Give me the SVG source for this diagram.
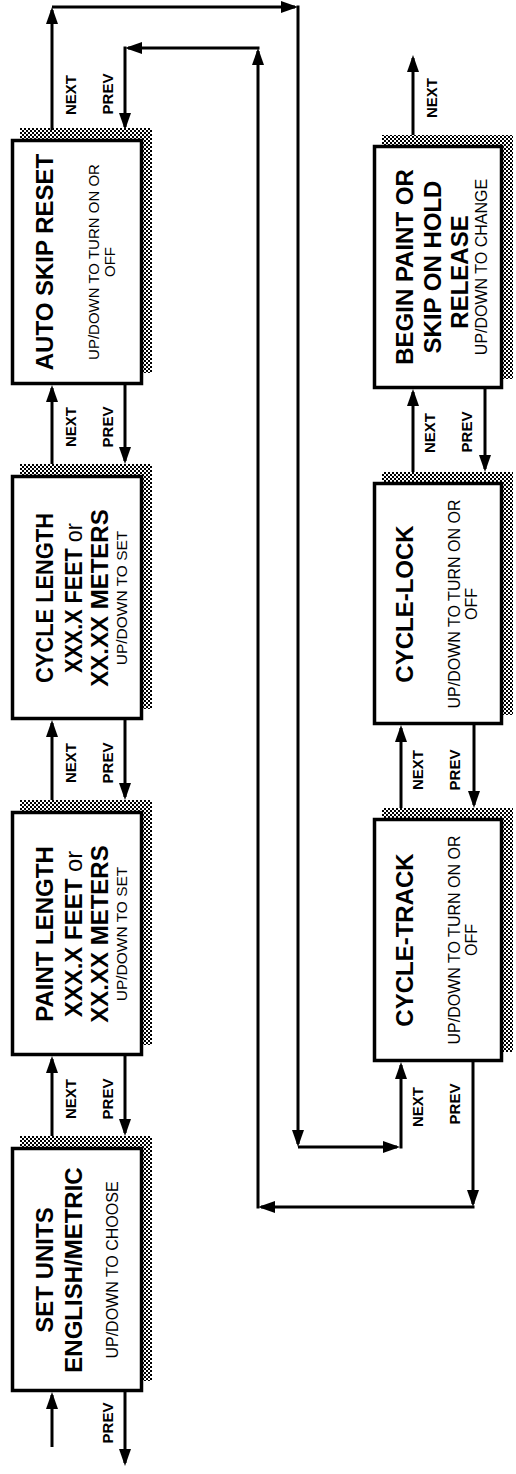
<svg xmlns="http://www.w3.org/2000/svg" width="516" height="1474" viewBox="0 0 516 1474">
<style>
.box{fill:#fff;stroke:#000;stroke-width:3.5}
.shadow{fill:url(#dots)}
.ln{fill:none;stroke:#000;stroke-width:3;marker-end:url(#ah)}
text{font-family:"Liberation Sans",Arial,sans-serif;fill:#000}
.t{font-size:24px;font-weight:bold}
.s{font-size:16px}
.s15{font-size:15px}
.s155{font-size:15.5px}
.lbl{font-size:15px;font-weight:bold}
</style>
<defs>
<pattern id="dots" width="4" height="4" patternUnits="userSpaceOnUse"><rect width="2" height="2" fill="#000"/><rect x="2" y="2" width="2" height="2" fill="#000"/></pattern>
<marker id="ah" markerUnits="userSpaceOnUse" markerWidth="17" markerHeight="12" refX="14" refY="6" orient="auto"><path d="M0,0 L17,6 L0,12 Z" fill="#000"/></marker>
</defs>
<g id="connectors">
<path class="ln" d="M52,1447 V1395"/>
<path class="ln" d="M125,1392 V1463"/>
<path class="ln" d="M52,1136 V1059"/>
<path class="ln" d="M125,1056 V1133"/>
<path class="ln" d="M52,800 V723"/>
<path class="ln" d="M125,720 V797"/>
<path class="ln" d="M52,464 V388"/>
<path class="ln" d="M125,385 V461"/>
<path class="ln" d="M52,130 V10"/>
<path class="ln" d="M52,7 H295"/>
<path class="ln" d="M298,5.5 V1144"/>
<path class="ln" d="M298,1147 H397"/>
<path class="ln" d="M401,1148.5 V1065"/>
<path class="ln" d="M473,1062 V1204"/>
<path class="ln" d="M474.5,1207 H261"/>
<path class="ln" d="M258,1208.5 V51"/>
<path class="ln" d="M259.5,48 H128"/>
<path class="ln" d="M125,46.5 V127"/>
<path class="ln" d="M401,808 V728"/>
<path class="ln" d="M474,725 V805"/>
<path class="ln" d="M413,472 V392"/>
<path class="ln" d="M485,389 V469"/>
<path class="ln" d="M413,135 V58"/>
<g class="lbl" text-anchor="middle">
<text class="lbl" transform="translate(76,95) rotate(-90)">NEXT</text>
<text class="lbl" transform="translate(113,94) rotate(-90)">PREV</text>
<text class="lbl" transform="translate(76,427) rotate(-90)">NEXT</text>
<text class="lbl" transform="translate(113,427) rotate(-90)">PREV</text>
<text class="lbl" transform="translate(76,763) rotate(-90)">NEXT</text>
<text class="lbl" transform="translate(113,763) rotate(-90)">PREV</text>
<text class="lbl" transform="translate(76,1099) rotate(-90)">NEXT</text>
<text class="lbl" transform="translate(113,1099) rotate(-90)">PREV</text>
<text class="lbl" transform="translate(113,1423) rotate(-90)">PREV</text>
<text class="lbl" transform="translate(437,98) rotate(-90)">NEXT</text>
<text class="lbl" transform="translate(435,433) rotate(-90)">NEXT</text>
<text class="lbl" transform="translate(472,432) rotate(-90)">PREV</text>
<text class="lbl" transform="translate(423,770) rotate(-90)">NEXT</text>
<text class="lbl" transform="translate(460,770) rotate(-90)">PREV</text>
<text class="lbl" transform="translate(423,1107) rotate(-90)">NEXT</text>
<text class="lbl" transform="translate(460,1104) rotate(-90)">PREV</text>
</g>
</g>
<g id="set-units">
<rect class="shadow" x="20" y="1136" width="132" height="245"/>
<rect class="box" x="12.5" y="1148.5" width="129" height="242"/>
<g transform="translate(77,1270) rotate(-90)" text-anchor="middle">
<text class="t" y="-24">SET UNITS</text>
<text class="t" y="5">ENGLISH/METRIC</text>
<text class="s" y="41">UP/DOWN TO CHOOSE</text>
</g>
</g>
<g id="paint-length">
<rect class="shadow" x="20" y="800" width="132" height="245"/>
<rect class="box" x="12.5" y="812.5" width="129" height="242"/>
<g transform="translate(77,934) rotate(-90)" text-anchor="middle">
<text class="t" y="-24">PAINT LENGTH</text>
<text class="t" y="5">XXX.X FEET<tspan font-weight="normal"> or</tspan></text>
<text class="t" y="31">XX.XX METERS</text>
<text class="s155" y="50">UP/DOWN TO SET</text>
</g>
</g>
<g id="cycle-length">
<rect class="shadow" x="20" y="464" width="132" height="245"/>
<rect class="box" x="12.5" y="476.5" width="129" height="242"/>
<g transform="translate(77,598) rotate(-90)" text-anchor="middle">
<text class="t" y="-24" textLength="170" lengthAdjust="spacingAndGlyphs">CYCLE LENGTH</text>
<text class="t" y="5" textLength="150" lengthAdjust="spacingAndGlyphs">XXX.X FEET<tspan font-weight="normal"> or</tspan></text>
<text class="t" y="31">XX.XX METERS</text>
<text class="s155" y="50">UP/DOWN TO SET</text>
</g>
</g>
<g id="auto-skip-reset">
<rect class="shadow" x="20" y="128" width="132" height="245"/>
<rect class="box" x="12.5" y="140.5" width="129" height="243"/>
<g transform="translate(77,262) rotate(-90)" text-anchor="middle">
<text class="t" y="-24">AUTO SKIP RESET</text>
<text class="s15" y="22">UP/DOWN TO TURN ON OR</text>
<text class="s15" y="38">OFF</text>
</g>
</g>
<g id="begin-paint">
<rect class="shadow" x="382" y="135" width="131" height="244"/>
<rect class="box" x="374.5" y="146.5" width="127" height="241"/>
<g transform="translate(438,267) rotate(-90)" text-anchor="middle">
<text class="t" y="-25">BEGIN PAINT OR</text>
<text class="t" y="3">SKIP ON HOLD</text>
<text class="t" y="30" x="-5">RELEASE</text>
<text class="s" y="49">UP/DOWN TO CHANGE</text>
</g>
</g>
<g id="cycle-lock">
<rect class="shadow" x="382" y="472" width="131" height="243"/>
<rect class="box" x="374.5" y="483.5" width="127" height="240"/>
<g transform="translate(438,604) rotate(-90)" text-anchor="middle">
<text class="t" y="-25">CYCLE-LOCK</text>
<text class="s" y="22">UP/DOWN TO TURN ON OR</text>
<text class="s" y="39">OFF</text>
</g>
</g>
<g id="cycle-track">
<rect class="shadow" x="382" y="808" width="131" height="244"/>
<rect class="box" x="374.5" y="819.5" width="127" height="241"/>
<g transform="translate(438,940) rotate(-90)" text-anchor="middle">
<text class="t" y="-25">CYCLE-TRACK</text>
<text class="s" y="22">UP/DOWN TO TURN ON OR</text>
<text class="s" y="39">OFF</text>
</g>
</g>
</svg>
